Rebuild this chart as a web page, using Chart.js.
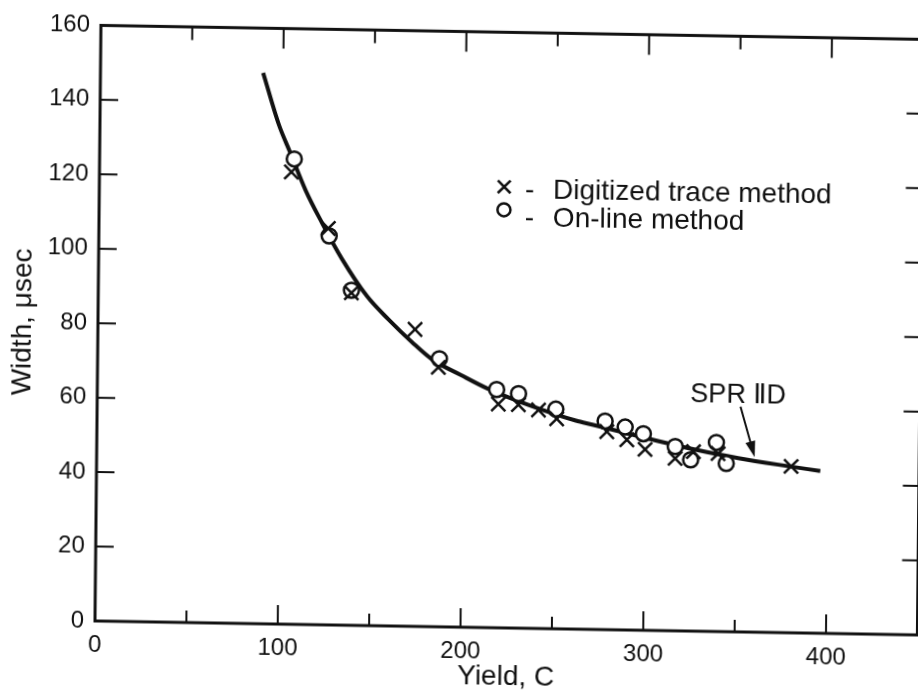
<!DOCTYPE html>
<html>
<head>
<meta charset="utf-8">
<script src="https://cdn.jsdelivr.net/npm/chart.js@4/dist/chart.umd.min.js"></script>
<style>
  html, body { margin: 0; padding: 0; background: #fff; overflow: hidden; }
  #wrap { position: relative; width: 918px; height: 696px; overflow: hidden; }
  /* the scanned figure sits slightly skewed on the page */
  #chart { position: absolute; left: 0; top: 0; transform-origin: 95px 621px; transform: matrix(1, 0.017, -0.01, 1, 0, 0); }
</style>
</head>
<body>
<div id="wrap"><canvas id="chart" width="930" height="696"></canvas></div>
<script>
// --- Data ---
const digitizedYield = [105, 125.5, 138.5, 173.5, 186.5, 219.5, 230.5, 241.5, 251.5, 279, 290, 300, 316.5, 326.5, 340, 380];
const digitizedWidth = [121.5, 106.5, 89.3, 79.8, 69.7, 60.1, 60, 58.7, 56.4, 53.2, 51.1, 48.6, 46.3, 48.2, 47.8, 44.7];

const onlineYield = [106.5, 126, 138.5, 187, 218.5, 230.5, 251, 278, 289, 299, 316.5, 325, 339, 344.5];
const onlineWidth = [125, 104.5, 90, 72, 64, 63, 59, 56, 54.5, 52.8, 49.5, 46, 50.8, 45.2];

// SPR IID fitted curve
const curveYield = [89, 98, 104, 113, 122, 133, 147, 159, 172, 183, 199, 214, 236, 262, 271, 307, 329, 351, 373, 396];
const curveWidth = [148, 134, 127, 116.5, 108, 98.5, 88.5, 82.3, 76.3, 71.8, 67.7, 64.1, 60, 56, 55, 50.9, 48.6, 46.7, 45.1, 43.6];

const xTicks = [0, 100, 200, 300, 400];
const xMinorTicks = [50, 150, 250, 350];
const yTicks = [0, 20, 40, 60, 80, 100, 120, 140, 160];

const curveLabel = "SPR \u2161D";

// --- Style ---
const INK = "#111";
const FONT = "'Liberation Sans', Arial, sans-serif";

function pairs(xs, ys) {
  return xs.map((v, i) => ({ x: v, y: ys[i] }));
}

// frame + inward tick marks on all four sides
const framePlugin = {
  id: "frame",
  beforeDatasetsDraw(chart) {
    const { ctx, chartArea: a, scales: { x, y } } = chart;
    ctx.save();
    ctx.strokeStyle = INK;
    ctx.lineWidth = 3;
    ctx.strokeRect(a.left, a.top, a.right - a.left, a.bottom - a.top);
    ctx.lineWidth = 2;
    ctx.beginPath();
    xTicks.forEach(v => {
      const px = x.getPixelForValue(v);
      ctx.moveTo(px, a.bottom); ctx.lineTo(px, a.bottom - 19);
      ctx.moveTo(px, a.top); ctx.lineTo(px, a.top + 20);
    });
    xMinorTicks.forEach(v => {
      const px = x.getPixelForValue(v);
      ctx.moveTo(px, a.bottom); ctx.lineTo(px, a.bottom - 12);
      ctx.moveTo(px, a.top); ctx.lineTo(px, a.top + 13);
    });
    yTicks.slice(1, -1).forEach(v => {
      const py = y.getPixelForValue(v);
      ctx.moveTo(a.left, py); ctx.lineTo(a.left + 18, py);
      ctx.moveTo(a.right, py); ctx.lineTo(a.right - 16, py);
    });
    ctx.stroke();
    ctx.restore();
  }
};

// legend text block and the curve label with its arrow
const notesPlugin = {
  id: "notes",
  afterDatasetsDraw(chart) {
    const { ctx, scales: { x, y } } = chart;
    const ds = chart.data.datasets;
    ctx.save();
    ctx.fillStyle = INK;
    ctx.strokeStyle = INK;
    ctx.font = "28px " + FONT;
    ctx.textBaseline = "alphabetic";

    // legend rows: marker, dash, label
    const lx = x.getPixelForValue(221.5);
    const ly = y.getPixelForValue(118.5);
    [0, 1].forEach(i => {
      const cy = ly + i * 23;
      const base = ly + 11 + i * 28;
      ctx.lineWidth = 2.5;
      ctx.fillStyle = "#fff";
      Chart.helpers.drawPoint(ctx, {
        pointStyle: ds[i].pointStyle,
        radius: i === 0 ? 9 : 6.5,
        rotation: 0,
        borderWidth: 2.5
      }, lx, cy);
      ctx.fillStyle = INK;
      ctx.fillText("-", lx + 21, base);
      ctx.fillText(ds[i].label, lx + 49, base);
    });

    // curve label
    ctx.font = "27px " + FONT;
    ctx.fillText(curveLabel, x.getPixelForValue(324.5), y.getPixelForValue(61.5));

    // arrow to the curve
    const x0 = x.getPixelForValue(352), y0 = y.getPixelForValue(60.5);
    const x1 = x.getPixelForValue(360), y1 = y.getPixelForValue(47);
    const ang = Math.atan2(y1 - y0, x1 - x0);
    ctx.lineWidth = 2;
    ctx.beginPath();
    ctx.moveTo(x0, y0);
    ctx.lineTo(x1 - 10 * Math.cos(ang), y1 - 10 * Math.sin(ang));
    ctx.stroke();
    ctx.beginPath();
    ctx.moveTo(x1, y1);
    ctx.lineTo(x1 - 16 * Math.cos(ang) + 5 * Math.sin(ang), y1 - 16 * Math.sin(ang) - 5 * Math.cos(ang));
    ctx.lineTo(x1 - 16 * Math.cos(ang) - 5 * Math.sin(ang), y1 - 16 * Math.sin(ang) + 5 * Math.cos(ang));
    ctx.closePath();
    ctx.fill();
    ctx.restore();
  }
};

new Chart(document.getElementById("chart"), {
  type: "scatter",
  data: {
    datasets: [
      {
        label: "Digitized trace method",
        data: pairs(digitizedYield, digitizedWidth),
        pointStyle: "crossRot",
        pointRadius: 10,
        borderColor: INK,
        borderWidth: 2.5,
        order: 0
      },
      {
        label: "On-line method",
        data: pairs(onlineYield, onlineWidth),
        pointStyle: "circle",
        pointRadius: 7.5,
        backgroundColor: "#fff",
        borderColor: INK,
        borderWidth: 2.5,
        order: 1
      },
      {
        label: curveLabel,
        type: "line",
        data: pairs(curveYield, curveWidth),
        borderColor: INK,
        borderWidth: 4,
        pointRadius: 0,
        fill: false,
        cubicInterpolationMode: "monotone",
        order: 2
      }
    ]
  },
  options: {
    responsive: false,
    animation: false,
    devicePixelRatio: 1,
    layout: { padding: { top: 20, right: 10, left: 0, bottom: 0 } },
    plugins: { legend: { display: false }, tooltip: { enabled: false } },
    scales: {
      x: {
        type: "linear",
        min: 0,
        max: 450,
        afterBuildTicks: s => { s.ticks = xTicks.map(v => ({ value: v })); },
        afterFit: s => { s.height = 75; },
        grid: { display: false, drawTicks: false },
        border: { display: false },
        ticks: { color: INK, font: { family: FONT, size: 24 }, padding: 10, maxRotation: 0 },
        title: { display: true, text: "Yield, C", color: INK, font: { family: FONT, size: 28, lineHeight: 1.2 }, padding: { top: 0, bottom: 9 } }
      },
      y: {
        type: "linear",
        min: 0,
        max: 160,
        afterBuildTicks: s => { s.ticks = yTicks.map(v => ({ value: v })); },
        afterFit: s => { s.width = 95; },
        grid: { display: false, drawTicks: false },
        border: { display: false },
        ticks: { color: INK, font: { family: FONT, size: 24 }, padding: 11 },
        title: { display: true, text: "Width, \u03bcsec", color: INK, font: { family: FONT, size: 28, lineHeight: 1.2 }, padding: { top: 3, bottom: 0 } }
      }
    }
  },
  plugins: [framePlugin, notesPlugin]
});
</script>
</body>
</html>
